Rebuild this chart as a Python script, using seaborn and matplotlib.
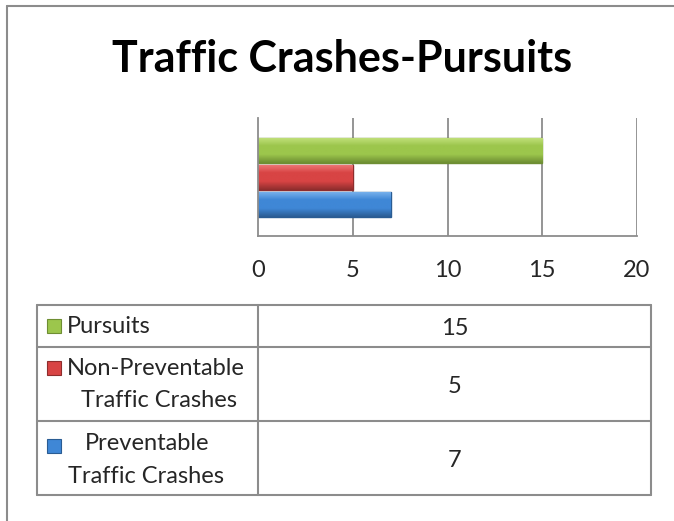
import numpy as np
import pandas as pd
import matplotlib.pyplot as plt
import seaborn as sns
from matplotlib.colors import LinearSegmentedColormap
from matplotlib.patches import Rectangle

sns.set_style('white')
plt.rcParams['font.family'] = ['Lato', 'DejaVu Sans']

# data
categories = ['Pursuits', 'Non-Preventable Traffic Crashes', 'Preventable Traffic Crashes']
values = [15, 5, 7]
colors = ['#9CC64C', '#D84444', '#3F87D6']
lights = ['#C4E27E', '#F07A7A', '#7DB5EE']
edges = ['#6E8E33', '#8E2D2D', '#2A5C93']
ticks = [0, 5, 10, 15, 20]

df = pd.DataFrame({'category': categories, 'value': values})

W, H = 674, 521
fig = plt.figure(figsize=(W / 100, H / 100), dpi=100)

# overlay in pixel coordinates for frame and table
ov = fig.add_axes([0, 0, 1, 1])
ov.set_xlim(0, W)
ov.set_ylim(H, 0)
ov.axis('off')
gray = '#8C8C8C'
ov.plot([7, 7], [H, 6], color=gray, lw=1.5)
ov.plot([7, W], [6, 6], color=gray, lw=1.5)

fig.text(342 / W, 1 - 72 / H, 'Traffic Crashes-Pursuits', ha='center', va='baseline',
         fontsize=31, fontweight='bold', color='black')

# bar chart
ax = fig.add_axes([258 / W, 1 - 236 / H, (637 - 258) / W, (236 - 118) / H])
sns.barplot(data=df, x='value', y='category', hue='category', palette=colors,
            orient='h', width=0.93, legend=False, ax=ax, dodge=False)
ax.set_xlim(0, 20)
ax.set_ylim(3.17, -1.2)
# bevel-like shading on each bar
for bar, c, lc, ec in zip(ax.patches, colors, lights, edges):
    bar.set_edgecolor(ec)
    bar.set_linewidth(1.0)
    x0, y0 = bar.get_x(), bar.get_y()
    w, h = bar.get_width(), bar.get_height()
    cmap = LinearSegmentedColormap.from_list('b', [lc, c, c, ec])
    grad = np.linspace(0, 1, 64).reshape(-1, 1)
    im = ax.imshow(grad, cmap=cmap, aspect='auto', extent=(x0, x0 + w, y0 + h, y0),
                   origin='upper', zorder=bar.get_zorder() + 0.1)
    im.set_clip_path(bar)
ax.set_xlim(0, 20)
ax.set_ylim(3.17, -1.2)
ax.set_xticks(ticks)
ax.set_xticklabels([str(t) for t in ticks], fontsize=17)
ax.set_yticks([])
ax.set_xlabel('')
ax.set_ylabel('')
ax.tick_params(axis='x', length=0, pad=17)
for t in ticks[1:]:
    ax.axvline(t, color=gray, lw=1.3, zorder=0)
for s in ['top', 'right']:
    ax.spines[s].set_visible(False)
for s in ['left', 'bottom']:
    ax.spines[s].set_color(gray)
    ax.spines[s].set_linewidth(1.3)

# data table
tl, tr, tdiv = 37, 651, 258
rows = [305, 347, 421, 495]
for y in rows:
    ov.plot([tl, tr], [y, y], color=gray, lw=1.5)
for x in [tl, tdiv, tr]:
    ov.plot([x, x], [rows[0], rows[-1]], color=gray, lw=1.5)

fs = 17
sq = 14
# row 1
ov.add_patch(Rectangle((47, 319), sq, sq, facecolor=colors[0], edgecolor=edges[0], lw=0.8))
ov.text(67, 333, 'Pursuits', ha='left', va='baseline', fontsize=fs)
# row 2
ov.add_patch(Rectangle((47, 361), sq, sq, facecolor=colors[1], edgecolor=edges[1], lw=0.8))
ov.text(67, 375, 'Non-Preventable', ha='left', va='baseline', fontsize=fs)
ov.text(159, 407, 'Traffic Crashes', ha='center', va='baseline', fontsize=fs)
# row 3
ov.add_patch(Rectangle((47, 439), sq, sq, facecolor=colors[2], edgecolor=edges[2], lw=0.8))
ov.text(147, 450, 'Preventable', ha='center', va='baseline', fontsize=fs)
ov.text(146, 483, 'Traffic Crashes', ha='center', va='baseline', fontsize=fs)

value_baselines = [335, 393, 467]
for v, yb in zip(values, value_baselines):
    ov.text((tdiv + tr) / 2, yb, str(v), ha='center', va='baseline', fontsize=fs)

fig.savefig('out.png', dpi=100)
